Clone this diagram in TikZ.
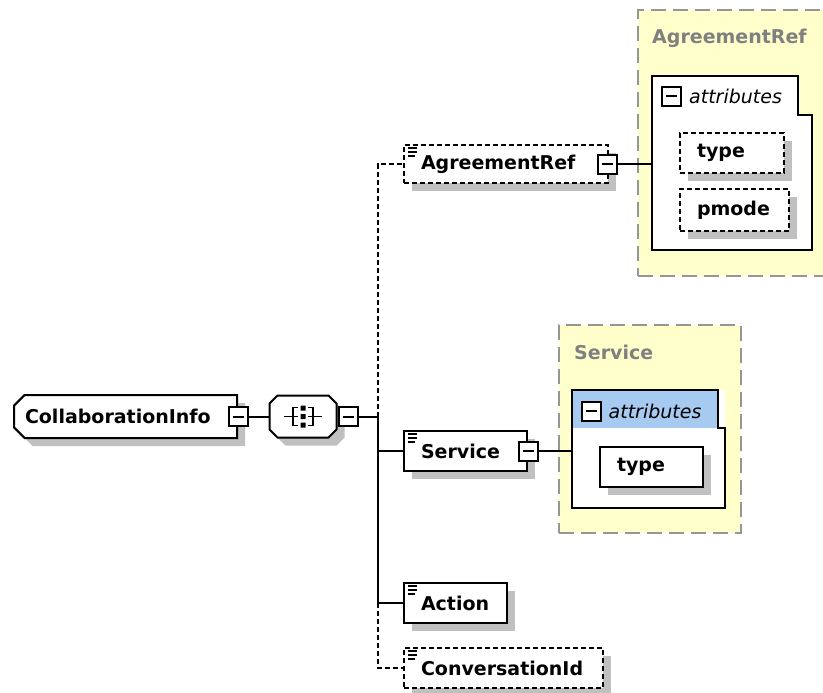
\documentclass[tikz,border=0pt]{standalone}
\usepackage{fontspec}
\setmainfont{DejaVu Sans}
\usetikzlibrary{shapes.misc, shadows, positioning}

\definecolor{shadowgray}{RGB}{192,192,192}
\definecolor{typeyellow}{RGB}{255,255,204}
\definecolor{typeborder}{RGB}{150,150,150}
\definecolor{headblue}{RGB}{166,202,240}
\definecolor{titlegray}{RGB}{128,128,128}

\newcommand{\xsdfont}{\fontsize{19}{22}\selectfont\bfseries}
\newcommand{\xsdattrfont}{\fontsize{19}{22}\selectfont\itshape}

\tikzstyle{boxshadow} = [drop shadow={shadow xshift=8pt, shadow yshift=-8pt, fill=shadowgray, opacity=1}]
\tikzstyle{element} = [rectangle, draw=black, line width=2pt, fill=white, minimum height=40pt, inner ysep=0pt, inner xsep=17pt, align=left, font=\xsdfont, boxshadow]
\tikzstyle{docelement} = [element, path picture={\draw[solid, line width=1.3pt] ([xshift=4pt,yshift=-3pt]path picture bounding box.north west) -- ++(9pt,0pt) ([xshift=4pt,yshift=-7pt]path picture bounding box.north west) -- ++(9pt,0pt) ([xshift=4pt,yshift=-11pt]path picture bounding box.north west) -- ++(7pt,0pt);}]
\tikzstyle{optional} = [dash pattern=on 5pt off 3pt]
\tikzstyle{rootelement} = [element, chamfered rectangle, chamfered rectangle corners={north west,south west}, chamfered rectangle xsep=7pt, inner xsep=4pt]
\tikzstyle{sequence} = [rectangle, minimum width=67pt, minimum height=42pt, inner sep=0pt, outer sep=0pt]
\tikzstyle{minusbox} = [rectangle, draw=black, line width=2pt, fill=white, minimum size=19pt, inner sep=0pt, path picture={\draw[solid, line width=2pt] ([xshift=4pt]path picture bounding box.west) -- ([xshift=-4pt]path picture bounding box.east);}]
\tikzstyle{typebox} = [rectangle, fill=typeyellow, draw=typeborder, line width=2pt, dash pattern=on 15pt off 7pt, anchor=north west, inner sep=0pt]
\tikzstyle{typetitle} = [font=\xsdfont, text=titlegray, anchor=west, inner sep=0pt]
\tikzstyle{attrbox} = [rectangle, anchor=north west, inner sep=0pt]
\tikzstyle{attrlabel} = [font=\xsdattrfont, anchor=west, inner sep=0pt]
\tikzstyle{link} = [line width=2pt]
\tikzstyle{optlink} = [link, dash pattern=on 5pt off 3pt]

\begin{document}
\begin{tikzpicture}[x=1pt, y=-1pt]

    \useasboundingbox (0,0) rectangle (823,693);

    % Tipos
    \node (agreetype) [typebox, minimum width=189pt, minimum height=266pt] at (637,9) {};
    \node (agreetitle) [typetitle] at ([xshift=15pt,yshift=-29pt]agreetype.north west) {AgreementRef};
    \node (servtype) [typebox, minimum width=182pt, minimum height=208pt] at (558,324) {};
    \node (servtitle) [typetitle] at ([xshift=16pt,yshift=-28pt]servtype.north west) {Service};

    \node (agreeattr) [attrbox, minimum width=160pt, minimum height=174pt] at (652,76) {};
    \fill [white] (agreeattr.north west) -- ([xshift=-14pt]agreeattr.north east) -- ([xshift=-14pt,yshift=-39pt]agreeattr.north east) -- ([yshift=-39pt]agreeattr.north east) -- (agreeattr.south east) -- (agreeattr.south west) -- cycle;
    \draw [link] (agreeattr.north west) -- ([xshift=-14pt]agreeattr.north east) -- ([xshift=-14pt,yshift=-39pt]agreeattr.north east) -- ([yshift=-39pt]agreeattr.north east) -- (agreeattr.south east) -- (agreeattr.south west) -- cycle;
    \node (agreeattrminus) [minusbox] at ([xshift=19.5pt,yshift=-20.5pt]agreeattr.north west) {};
    \node (agreeattrlbl) [attrlabel, right=7pt of agreeattrminus] {attributes};
    \node (agreeattrtype) [element, optional, anchor=north west, text width=70pt] at ([xshift=27pt,yshift=-56pt]agreeattr.north west) {type};
    \node (agreeattrpmode) [element, optional, anchor=north west, text width=75pt, minimum height=42pt] at ([yshift=-14pt]agreeattrtype.south west) {pmode};

    \node (servattr) [attrbox, minimum width=153pt, minimum height=118pt] at (572,390) {};
    \fill [white] (servattr.north west) rectangle (servattr.south east);
    \fill [headblue] (servattr.north west) rectangle ([xshift=-7pt,yshift=-38pt]servattr.north east);
    \draw [link] (servattr.north west) -- ([xshift=-7pt]servattr.north east) -- ([xshift=-7pt,yshift=-38pt]servattr.north east) -- ([yshift=-38pt]servattr.north east) -- (servattr.south east) -- (servattr.south west) -- cycle;
    \node (servattrminus) [minusbox] at ([xshift=19pt,yshift=-21pt]servattr.north west) {};
    \node (servattrlbl) [attrlabel, right=7pt of servattrminus] {attributes};
    \node (servattrtype) [element, anchor=north west, text width=69pt] at ([xshift=27pt,yshift=-56pt]servattr.north west) {type};

    % Elementos
    \node (root) [rootelement, anchor=west, minimum width=223pt, minimum height=43pt, text width=201pt] at (13,416.5) {CollaborationInfo};
    \node (rootminus) [minusbox] at (root.east) {};
    \node (seq) [sequence, right=21pt of rootminus] {};
    \begin{scope}[shift={(seq.center)}]
        \fill [shadowgray, shift={(8,8)}] (-33.5,-13) -- (-25.5,-21) -- (25.5,-21) -- (33.5,-13) -- (33.5,13) -- (25.5,21) -- (-25.5,21) -- (-33.5,13) -- cycle;
        \filldraw [fill=white, line width=2pt] (-33.5,-13) -- (-25.5,-21) -- (25.5,-21) -- (33.5,-13) -- (33.5,13) -- (25.5,21) -- (-25.5,21) -- (-33.5,13) -- cycle;
        \draw [line width=1.5pt] (-19,0) -- (-5,0) (-5,-9) -- (-10,-9) -- (-10,9) -- (-5,9);
        \draw [line width=1.5pt] (19,0) -- (5,0) (5,-9) -- (10,-9) -- (10,9) -- (5,9);
        \fill (-2.5,-11) rectangle (2.5,-6) (-2.5,-2.5) rectangle (2.5,2.5) (-2.5,6) rectangle (2.5,11);
    \end{scope}
    \node (seqminus) [minusbox, anchor=west] at ([xshift=1pt]seq.east) {};
    \coordinate [right=19pt of seqminus] (bus);

    \node (agree) [docelement, optional, anchor=west, minimum height=38pt, text width=170pt] at (403,164) {AgreementRef};
    \node (agreeminus) [minusbox] at ([xshift=-2pt]agree.east) {};
    \node (service) [docelement, anchor=west, text width=89pt] at (403,451) {Service};
    \node (servminus) [minusbox] at (service.east) {};
    \node (action) [docelement, anchor=west, text width=69pt] at (403,603) {Action};
    \node (convid) [docelement, optional, anchor=west, text width=165pt] at (403,668) {ConversationId};

    % Ligações
    \draw [link] (rootminus) -- (seq.west);
    \draw [link] (seqminus) -- (bus);
    \draw [optlink] (bus) |- (agree);
    \draw [link] (bus) |- (service);
    \draw [link] (bus) |- (action);
    \draw [optlink] (action -| bus) |- (convid);
    \draw [link] (agreeminus) -- (agreeminus -| agreeattr.west);
    \draw [link] (servminus) -- (servminus -| servattr.west);

\end{tikzpicture}
\end{document}
